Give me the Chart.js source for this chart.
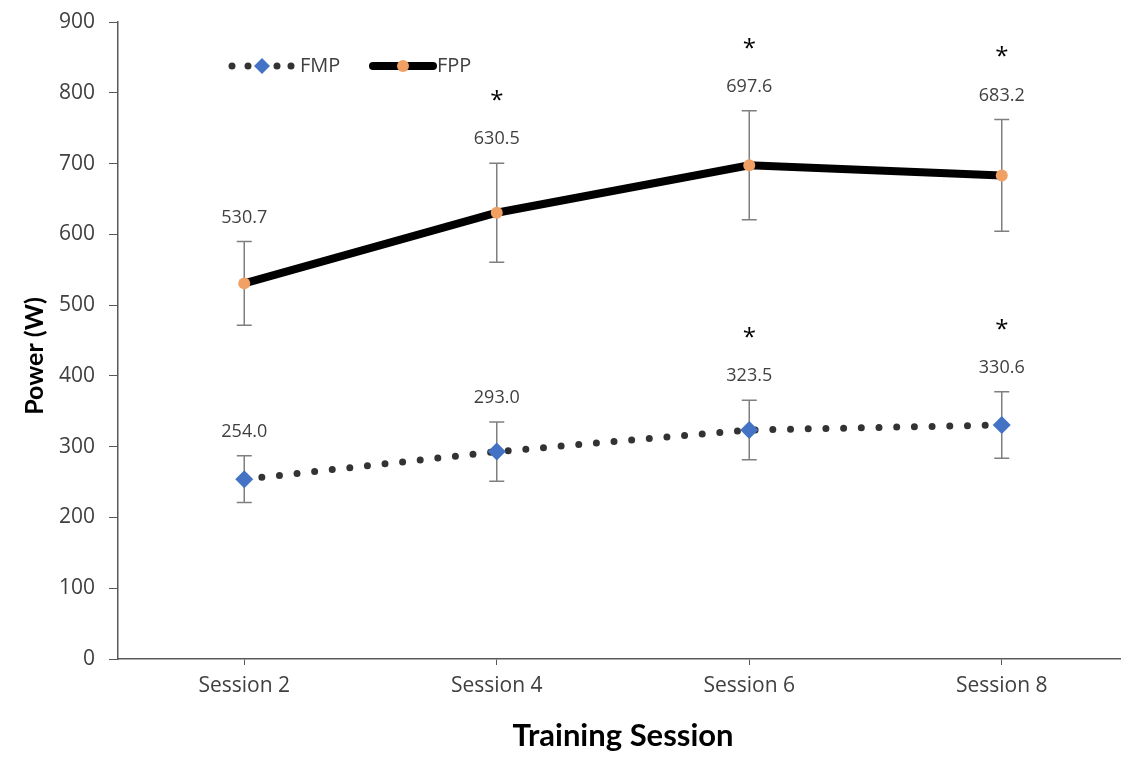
<!DOCTYPE html>
<html>
<head>
<meta charset="utf-8">
<script src="https://cdn.jsdelivr.net/npm/chart.js@4.4.1/dist/chart.umd.min.js"></script>
<style>
    html, body { margin: 0; padding: 0; background: #ffffff; overflow: hidden; }
    canvas { display: block; }
</style>
</head>
<body>
<canvas id="powerChart" width="1137" height="759"></canvas>
<script>
// Data
const sessions = ['Session 2', 'Session 4', 'Session 6', 'Session 8'];
const fmpValues = [254.0, 293.0, 323.5, 330.6];
const fppValues = [530.7, 630.5, 697.6, 683.2];
const fmpErrors = [33, 42, 42, 47];
const fppErrors = [59, 70, 77, 79];
const fmpSignificant = [false, false, true, true];
const fppSignificant = [false, true, true, true];
const yTicks = [0, 100, 200, 300, 400, 500, 600, 700, 800, 900];

const tickFont = '"Open Sans", "DejaVu Sans", sans-serif';
const titleFont = 'Lato, "Open Sans", sans-serif';

// Error bars, drawn under the lines and markers
const errorBarPlugin = {
    id: 'errorBars',
    beforeDatasetsDraw(chart) {
        const { ctx, scales: { x, y } } = chart;
        const sets = [[fmpValues, fmpErrors], [fppValues, fppErrors]];
        ctx.save();
        ctx.strokeStyle = '#7f7f7f';
        ctx.lineWidth = 1.5;
        sets.forEach(([vals, errs]) => {
            vals.forEach((v, i) => {
                const px = x.getPixelForValue(i);
                const top = y.getPixelForValue(v + errs[i]);
                const bot = y.getPixelForValue(v - errs[i]);
                ctx.beginPath();
                ctx.moveTo(px, top); ctx.lineTo(px, bot);
                ctx.moveTo(px - 7.5, top); ctx.lineTo(px + 7.5, top);
                ctx.moveTo(px - 7.5, bot); ctx.lineTo(px + 7.5, bot);
                ctx.stroke();
            });
        });
        ctx.restore();
    }
};

// Value labels above the error bars, plus significance asterisks
const valueLabelPlugin = {
    id: 'valueLabels',
    afterDatasetsDraw(chart) {
        const { ctx, scales: { x, y } } = chart;
        const sets = [
            [fmpValues, fmpErrors, fmpSignificant],
            [fppValues, fppErrors, fppSignificant]
        ];
        ctx.save();
        ctx.textAlign = 'center';
        ctx.textBaseline = 'middle';
        sets.forEach(([vals, errs, sig]) => {
            vals.forEach((v, i) => {
                const px = x.getPixelForValue(i);
                const ly = y.getPixelForValue(v + errs[i]) - 24;
                ctx.fillStyle = '#404040';
                ctx.font = '18px ' + tickFont;
                ctx.fillText(v.toFixed(1), px, ly);
                if (sig[i]) {
                    ctx.fillStyle = '#000000';
                    ctx.font = '24px ' + tickFont;
                    ctx.fillText('*', px, ly - 38);
                }
            });
        });
        ctx.restore();
    }
};

// Legend inside the plot (top left) and the rotated y title
const legendPlugin = {
    id: 'customLegend',
    afterDraw(chart) {
        const { ctx } = chart;
        const ly = 66;
        ctx.save();
        // FMP: dotted line with blue diamond
        ctx.fillStyle = '#333333';
        [232, 248, 277, 291].forEach(dx => {
            ctx.beginPath();
            ctx.arc(dx, ly, 3.5, 0, Math.PI * 2);
            ctx.fill();
        });
        ctx.fillStyle = '#4472c4';
        ctx.beginPath();
        ctx.moveTo(262, ly - 8); ctx.lineTo(270, ly); ctx.lineTo(262, ly + 8); ctx.lineTo(254, ly);
        ctx.closePath();
        ctx.fill();
        // FPP: thick black line with orange dot
        ctx.strokeStyle = '#000000';
        ctx.lineWidth = 8;
        ctx.lineCap = 'round';
        ctx.beginPath();
        ctx.moveTo(373, ly); ctx.lineTo(433, ly);
        ctx.stroke();
        ctx.fillStyle = '#f0a062';
        ctx.beginPath();
        ctx.arc(403, ly, 6, 0, Math.PI * 2);
        ctx.fill();
        // Labels
        ctx.fillStyle = '#404040';
        ctx.font = '20px ' + tickFont;
        ctx.textBaseline = 'middle';
        ctx.fillText('FMP', 300, ly);
        ctx.fillText('FPP', 437, ly);

        // y axis title
        ctx.translate(35, 356);
        ctx.rotate(-Math.PI / 2);
        ctx.fillStyle = '#000000';
        ctx.font = 'bold 25px ' + titleFont;
        ctx.textAlign = 'center';
        ctx.fillText('Power (W)', 0, 0);
        ctx.restore();
    }
};

const chart = new Chart(document.getElementById('powerChart'), {
    type: 'line',
    data: {
        labels: sessions,
        datasets: [
            {
                label: 'FMP',
                data: fmpValues,
                borderColor: '#333333',
                borderWidth: 7,
                borderDash: [0, 17.7],
                borderCapStyle: 'round',
                tension: 0,
                pointStyle: 'rectRot',
                pointRadius: 9,
                pointBackgroundColor: '#4472c4',
                pointBorderWidth: 0
            },
            {
                label: 'FPP',
                data: fppValues,
                borderColor: '#000000',
                borderWidth: 8,
                borderCapStyle: 'round',
                tension: 0,
                pointStyle: 'circle',
                pointRadius: 6,
                pointBackgroundColor: '#f0a062',
                pointBorderWidth: 0
            }
        ]
    },
    options: {
        responsive: false,
        animation: false,
        layout: { padding: { top: 22, left: 0, right: 0, bottom: 0 } },
        plugins: {
            legend: { display: false },
            tooltip: { enabled: false }
        },
        scales: {
            x: {
                offset: true,
                afterFit: s => { s.height = 100; },
                grid: {
                    drawOnChartArea: false,
                    offset: false,
                    tickLength: 6,
                    color: '#595959'
                },
                border: { color: '#595959', width: 1.5 },
                ticks: { color: '#404040', font: { family: tickFont, size: 21 }, padding: 8 },
                title: {
                    display: true,
                    text: 'Training Session',
                    color: '#000000',
                    font: { family: titleFont, size: 31, weight: 'bold' },
                    padding: { top: 4 }
                }
            },
            y: {
                min: 0,
                max: 900,
                afterFit: s => {
                    s.width = 118;
                    s.paddingTop = 0;
                    s.paddingBottom = 0;
                },
                afterBuildTicks: s => { s.ticks = yTicks.map(v => ({ value: v })); },
                grid: {
                    drawOnChartArea: false,
                    tickLength: 9,
                    color: '#595959'
                },
                border: { color: '#595959', width: 1.5 },
                ticks: { color: '#404040', font: { family: tickFont, size: 21 }, padding: 14 }
            }
        }
    },
    plugins: [errorBarPlugin, valueLabelPlugin, legendPlugin]
});
</script>
</body>
</html>
